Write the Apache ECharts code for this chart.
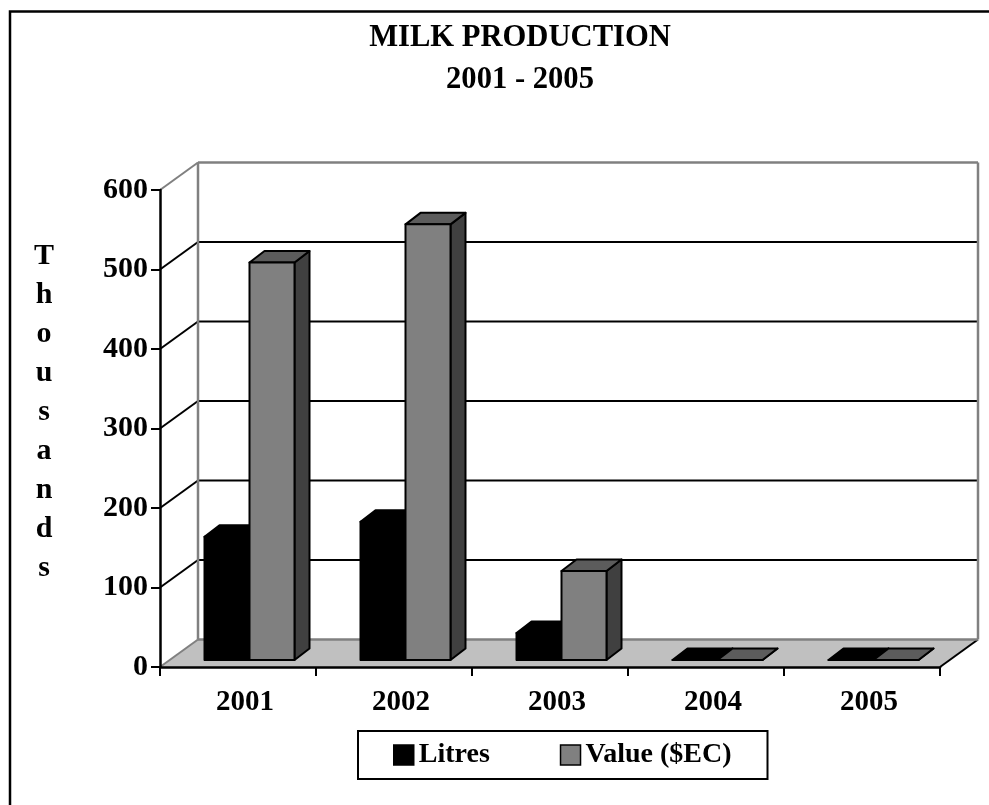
<!DOCTYPE html>
<html>
<head>
<meta charset="utf-8">
<style>html,body{margin:0;padding:0;background:#fff}#c{width:989px;height:805px}</style>
<script src="https://cdn.jsdelivr.net/npm/echarts@6/dist/echarts.min.js"></script>
</head>
<body>
<div id="c"></div>
<script>
const categories = ['2001', '2002', '2003', '2004', '2005'];
const litres = [155, 174, 34, 0, 0];
const valueEC = [500, 548, 112, 0, 0];
const yTicks = [0, 100, 200, 300, 400, 500, 600];
const FONT = '"Liberation Serif", "Times New Roman", serif';

const DX = 38, DY = 27.5;      // depth of the floor
const BAR_DX = 11.5, BAR_DY = 7; // bar front offset in depth
const SIDE_DX = 15, SIDE_DY = 11.5;
const BAR_W = 45;

function barShape(slot) {
  return function (params, api) {
    const f = api.coord([api.value(0), api.value(1)]);
    const b = api.coord([api.value(0), 0]);
    const x0 = f[0] + BAR_DX + slot * BAR_W, x1 = x0 + BAR_W;
    const yt = f[1] - BAR_DY, yb = b[1] - BAR_DY;
    const colors = slot < 0
      ? { front: '#000', top: '#000', side: '#000' }
      : { front: '#808080', top: '#5c5c5c', side: '#404040' };
    const line = { stroke: '#000', lineWidth: 2, lineJoin: 'round' };
    const poly = (pts, fill) => ({ type: 'polygon', shape: { points: pts }, style: Object.assign({ fill }, line) });
    return {
      type: 'group',
      children: [
        poly([[x1, yt], [x1 + SIDE_DX, yt - SIDE_DY], [x1 + SIDE_DX, yb - SIDE_DY], [x1, yb]], colors.side),
        poly([[x0, yt], [x0 + SIDE_DX, yt - SIDE_DY], [x1 + SIDE_DX, yt - SIDE_DY], [x1, yt]], colors.top),
        poly([[x0, yt], [x1, yt], [x1, yb], [x0, yb]], colors.front)
      ]
    };
  };
}

function renderFloor(params, api) {
  const a = api.coord([0, 0]);
  const size = api.size([1, 0]);
  const left = a[0] - size[0] / 2;
  const right = left + size[0] * categories.length;
  const y = a[1];
  return {
    type: 'group',
    children: [
      { type: 'polygon', shape: { points: [[left, y], [left + DX, y - DY], [right + DX, y - DY], [right, y]] },
        style: { fill: '#c0c0c0', stroke: null } },
      { type: 'line', shape: { x1: right, y1: y, x2: right + DX, y2: y - DY }, style: { stroke: '#000', lineWidth: 2 } },
      { type: 'line', shape: { x1: left, y1: y, x2: left + DX, y2: y - DY }, style: { stroke: '#808080', lineWidth: 2 } }
    ]
  };
}

function renderGrid(params, api) {
  const v = api.value(0);
  const p0 = api.coord([0, v]);
  const base = api.coord([0, 0]);
  const size = api.size([1, 0]);
  const left = p0[0] - size[0] / 2;
  const right = left + size[0] * categories.length;
  const y = p0[1];
  const edge = (v === 0 || v === yTicks[yTicks.length - 1]);
  const col = edge ? '#808080' : '#000';
  const w = edge ? 2.5 : 2;
  const kids = [
    { type: 'line', shape: { x1: left + DX, y1: y - DY, x2: right + DX, y2: y - DY }, style: { stroke: col, lineWidth: w } }
  ];
  if (v !== 0) {
    kids.push({ type: 'line', shape: { x1: left, y1: y, x2: left + DX, y2: y - DY }, style: { stroke: col, lineWidth: 2 } });
  }
  if (v === yTicks[yTicks.length - 1]) {
    kids.push({ type: 'line', shape: { x1: left + DX, y1: y - DY, x2: left + DX, y2: base[1] - DY }, style: { stroke: '#808080', lineWidth: 2.5 } });
    kids.push({ type: 'line', shape: { x1: right + DX, y1: y - DY, x2: right + DX, y2: base[1] - DY }, style: { stroke: '#808080', lineWidth: 2.5 } });
  }
  return { type: 'group', children: kids };
}

const chart = echarts.init(document.getElementById('c'), null, { renderer: 'canvas' });
chart.setOption({
  animation: false,
  backgroundColor: '#fff',
  title: {
    text: 'MILK PRODUCTION\n2001 - 2005',
    left: 515, top: 12, textAlign: 'center',
    textStyle: { fontFamily: FONT, fontWeight: 'bold', fontSize: 30.6, lineHeight: 42, color: '#000' }
  },
  legend: {
    data: [
      { name: 'Litres', icon: 'rect', itemStyle: { color: '#000', borderColor: '#000', borderWidth: 1.5 } },
      { name: 'Value ($EC)', icon: 'rect', itemStyle: { color: '#808080', borderColor: '#000', borderWidth: 1.5 } }
    ],
    left: 358, top: 731,
    padding: [10, 36, 10, 35],
    itemWidth: 20, itemHeight: 20, itemGap: 70,
    borderColor: '#000', borderWidth: 2, selectedMode: false,
    textStyle: { fontFamily: FONT, fontWeight: 'bold', fontSize: 28, color: '#000', padding: [10, 0, 0, 0] }
  },
  grid: { left: 160, right: 49, top: 190, bottom: 138, containLabel: false },
  xAxis: {
    type: 'category', data: categories, boundaryGap: true, z: 10,
    axisLine: { lineStyle: { color: '#000', width: 2.5 } },
    axisTick: { show: true, alignWithLabel: false, length: 9, lineStyle: { color: '#000', width: 2 } },
    axisLabel: { fontFamily: FONT, fontWeight: 'bold', fontSize: 29, color: '#000', margin: 21, padding: [0, 0, 0, 14], interval: 0 }
  },
  yAxis: {
    type: 'value', min: 0, max: 600, interval: 100, z: 10,
    name: 'T\nh\no\nu\ns\na\nn\nd\ns\n{gap|}', nameLocation: 'middle', nameRotate: 0, nameGap: 116,
    nameTextStyle: { fontFamily: FONT, fontWeight: 'bold', fontSize: 30, lineHeight: 39, color: '#000', align: 'center',
      rich: { gap: { lineHeight: 32, fontSize: 30, height: 32 } } },
    axisLine: { show: true, lineStyle: { color: '#000', width: 2.5 } },
    axisTick: { show: true, length: 9, lineStyle: { color: '#000', width: 2 } },
    axisLabel: { fontFamily: FONT, fontWeight: 'bold', fontSize: 30, color: '#000', margin: 12 },
    splitLine: { show: false }
  },
  series: [
    { type: 'custom', name: 'floor', z: 1, silent: true, renderItem: renderFloor, data: [[0]], clip: false },
    { type: 'custom', name: 'grid', z: 1.5, silent: true, renderItem: renderGrid, data: yTicks.map(v => [v]), clip: false },
    { type: 'custom', name: 'Litres', z: 3, renderItem: barShape(-1), encode: { x: 0, y: 1 }, clip: false,
      itemStyle: { color: '#000' }, data: categories.map((c, i) => [i, litres[i]]) },
    { type: 'custom', name: 'Value ($EC)', z: 4, renderItem: barShape(0), encode: { x: 0, y: 1 }, clip: false,
      itemStyle: { color: '#808080' }, data: categories.map((c, i) => [i, valueEC[i]]) }
  ],
  graphic: [
    { type: 'polyline', silent: true, z: 0, shape: { points: [[10, 805], [10, 11.5], [989, 11.5]] }, style: { stroke: '#000', lineWidth: 2.5, fill: null } }
  ]
});
</script>
</body>
</html>
